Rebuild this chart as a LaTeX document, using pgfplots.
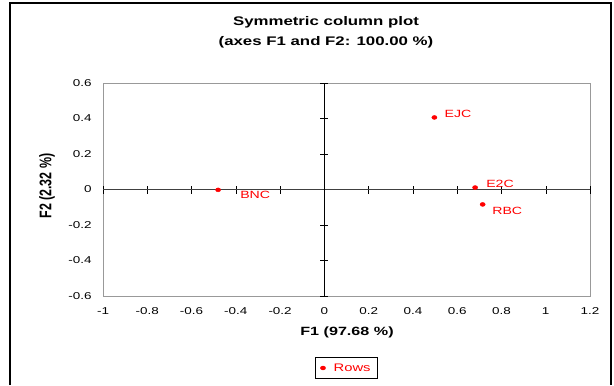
\documentclass[border=0pt]{standalone}
\usepackage{pgfplots}
\pgfplotsset{compat=1.18}
\usepackage{fontspec}
\setmainfont{Liberation Sans}[FakeStretch=1.35]
\newfontfamily\plainfont{Liberation Sans}
\begin{document}
\begin{tikzpicture}[x=1bp,y=1bp]
\path[use as bounding box] (0,0) rectangle (614,385);
\draw[line width=1.5bp] (10,0) -- (10,382) -- (611,382) -- (611,0);
\node[font=\bfseries\fontsize{12.5}{20}\selectfont, align=center] at (326,353) {Symmetric column plot\\(axes F1 and F2: 100.00 \%)};
\node[font=\plainfont\bfseries\fontsize{12.5}{14}\selectfont, rotate=90, yscale=1.35] at (47,199) {F2 (2.32 \%)};
\node[font=\bfseries\fontsize{12}{14}\selectfont] at (347,53) {F1 (97.68 \%)};
\begin{axis}[
  at={(103bp,89bp)}, anchor=south west, scale only axis,
  width=487bp, height=213bp,
  xmin=-1, xmax=1.2, ymin=-0.6, ymax=0.6,
  xtick={-1,-0.8,-0.6,-0.4,-0.2,0,0.2,0.4,0.6,0.8,1,1.2},
  ytick={-0.6,-0.4,-0.2,0,0.2,0.4,0.6},
  major tick length=0pt,
  axis line style={draw=gray!80},
  tick label style={font=\fontsize{10}{11}\selectfont},
  /pgf/number format/assume math mode=true,
  xticklabel style={yshift=-8bp},
  yticklabel style={xshift=-8bp},
]
\end{axis}
\begin{axis}[
  at={(103bp,89bp)}, anchor=south west, scale only axis,
  width=487bp, height=213bp,
  xmin=-1, xmax=1.2, ymin=-0.6, ymax=0.6,
  axis lines=middle,
  x axis line style={-, draw=black!75},
  y axis line style={-, draw=black},
  xtick={-1,-0.8,-0.6,-0.4,-0.2,0,0.2,0.4,0.6,0.8,1,1.2},
  ytick={-0.6,-0.4,-0.2,0,0.2,0.4,0.6},
  xticklabels={}, yticklabels={},
  tick align=center, major tick length=8bp,
  tick style={black, thin},
  legend style={at={(0.5,-0.338)}, anchor=center, draw=black,
    font=\fontsize{11}{13}\selectfont, text=red, inner xsep=5bp, inner ysep=4bp},
]
\addplot[only marks, mark=*, red, mark size=2bp, mark options={xscale=1.3},
  nodes near coords, point meta=explicit symbolic,
  visualization depends on={\thisrow{dx}\as\dx},
  visualization depends on={\thisrow{dy}\as\dy},
  every node near coord/.append style={anchor=west, inner sep=0pt,
    xshift=\dx bp, yshift=\dy bp, text=red, font=\fontsize{10.5}{12}\selectfont}]
table[meta=label]{
x y label dx dy
-0.480 -0.002 BNC 22 -5.5
0.497 0.406 EJC 10 4
0.681 0.011 E2C 11 4
0.715 -0.084 RBC 9.5 -6.5
};
\addlegendentry{\hspace{6bp}Rows\hspace{3bp}}
\end{axis}
\end{tikzpicture}
\end{document}
